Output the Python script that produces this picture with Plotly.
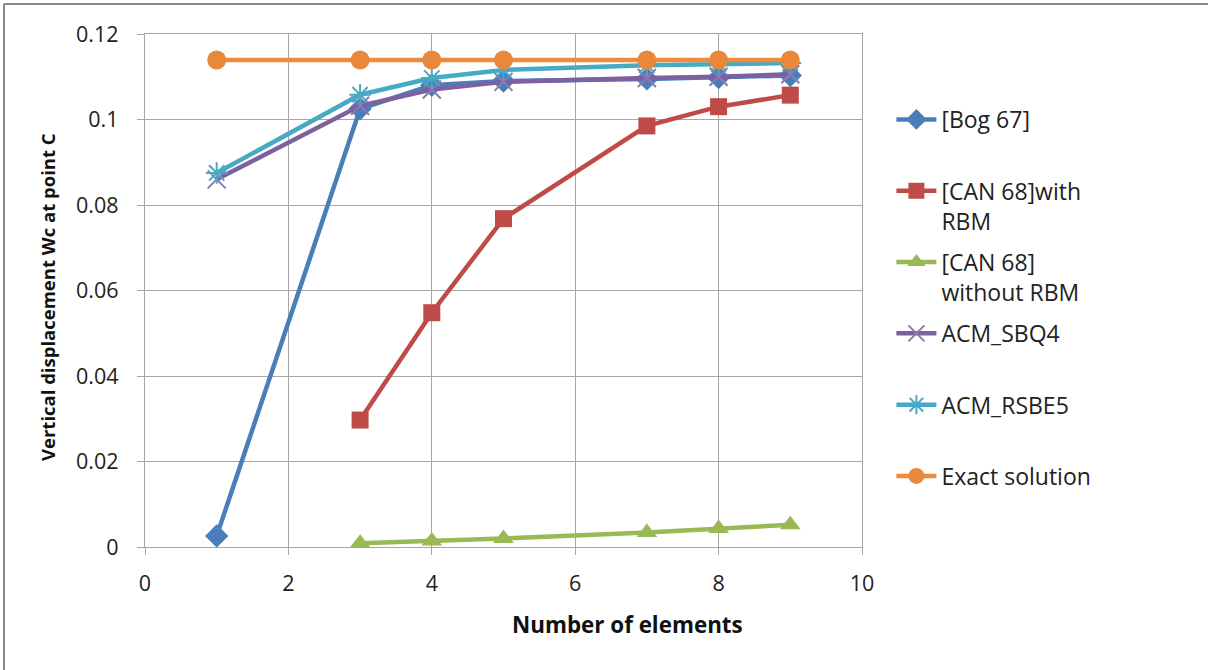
import plotly.graph_objects as go

# ---- data ----
x_bog = [1, 3, 4, 5, 7, 8, 9]
y_bog = [0.0026, 0.1025, 0.108, 0.109, 0.1095, 0.1098, 0.1103]

x_can_rbm = [3, 4, 5, 7, 8, 9]
y_can_rbm = [0.0297, 0.0548, 0.0768, 0.0985, 0.1030, 0.1057]

x_can_norbm = [3, 4, 5, 7, 8, 9]
y_can_norbm = [0.0009, 0.0014, 0.0020, 0.0034, 0.0043, 0.0052]

x_sbq4 = [1, 3, 4, 5, 7, 8, 9]
y_sbq4 = [0.0860, 0.1032, 0.1070, 0.1088, 0.1097, 0.1100, 0.1106]

x_rsbe5 = [1, 3, 4, 5, 7, 8, 9]
y_rsbe5 = [0.0875, 0.1058, 0.1097, 0.1116, 0.1127, 0.1130, 0.1132]

x_exact = [1, 3, 4, 5, 7, 8, 9]
y_exact = [0.1139, 0.1139, 0.1139, 0.1139, 0.1139, 0.1139, 0.1139]

names = ["[Bog 67]<br> ", "[CAN 68]with<br>RBM", "[CAN 68]<br>without RBM",
         "ACM_SBQ4<br> ", "ACM_RSBE5<br> ", "Exact solution<br> "]

x_title = "Number of elements"
y_title = "Vertical displacement Wc at point C"

FONT = "Open Sans"

fig = go.Figure()
series = [
    (x_bog, y_bog, names[0], "#4A7EBB", dict(symbol="diamond", size=18, color="#4A7EBB")),
    (x_can_rbm, y_can_rbm, names[1], "#BE4B48", dict(symbol="square", size=17, color="#BE4B48")),
    (x_can_norbm, y_can_norbm, names[2], "#98B954", dict(symbol="triangle-up", size=18, color="#98B954")),
    (x_sbq4, y_sbq4, names[3], "#7D60A0", dict(symbol="x-thin", size=18, color="#9A86B8",
                                                line=dict(width=2, color="#8E78B0"))),
    (x_rsbe5, y_rsbe5, names[4], "#46AAC5", dict(symbol="asterisk", size=18, color="#46AAC5",
                                                 line=dict(width=2, color="#46AAC5"))),
    (x_exact, y_exact, names[5], "#F08A3C", dict(symbol="circle", size=19, color="#E8883A")),
]
for i, (xs, ys, nm, col, mk) in enumerate(series):
    fig.add_trace(go.Scatter(x=xs, y=ys, name=nm, mode="lines+markers",
                             line=dict(color=col, width=4.5), marker=mk,
                             legendgroup=f"g{i}"))

axis_common = dict(showgrid=True, gridcolor="#A6A6A6", gridwidth=1.3,
                   showline=True, linecolor="#A6A6A6", linewidth=1.3,
                   ticks="outside", ticklen=7, tickcolor="#A6A6A6",
                   tickfont=dict(family=FONT, size=21.5, color="#222"),
                   zeroline=False)

fig.update_xaxes(range=[0, 10], dtick=2, tick0=0, ticklabelstandoff=10,
                 mirror=True, **axis_common)
fig.update_yaxes(range=[0, 0.12], dtick=0.02, tick0=0, tickformat="~g",
                 ticklabelstandoff=14, mirror=True, **axis_common)

# axis titles (positioned as in the reference)
fig.add_annotation(text=f"<b>{x_title}</b>", xref="paper", yref="paper",
                   x=(627 - 145) / 717, y=(547 - 625) / 513,
                   xanchor="center", yanchor="middle", showarrow=False,
                   font=dict(family=FONT, size=22.4, color="#111"))
fig.add_annotation(text=f"<b>{y_title}</b>", xref="paper", yref="paper",
                   x=(47 - 145) / 717, y=(547 - 297) / 513, textangle=-90,
                   xanchor="center", yanchor="middle", showarrow=False,
                   font=dict(family=FONT, size=18.5, color="#111"))

# outer border (top and left visible)
fig.add_shape(type="line", xref="paper", yref="paper",
              x0=(4 - 145) / 717, x1=(1210 - 145) / 717,
              y0=(547 - 4) / 513, y1=(547 - 4) / 513,
              line=dict(color="#888888", width=2))
fig.add_shape(type="line", xref="paper", yref="paper",
              x0=(4 - 145) / 717, x1=(4 - 145) / 717,
              y0=(547 - 4) / 513, y1=(547 - 672) / 513,
              line=dict(color="#888888", width=2))

fig.update_layout(
    width=1208, height=670,
    margin=dict(l=145, r=346, t=34, b=123),
    plot_bgcolor="white", paper_bgcolor="white",
    font=dict(family=FONT, color="#222"),
    legend=dict(x=1.041, y=(547 - 98) / 513, xanchor="left", yanchor="top",
                font=dict(family=FONT, size=23, color="#222"),
                valign="top", tracegroupgap=8.5, itemwidth=40,
                bgcolor="rgba(0,0,0,0)"),
)

fig.write_html("out.html", config={"displayModeBar": False},
               post_script="document.body.style.margin='0';")
